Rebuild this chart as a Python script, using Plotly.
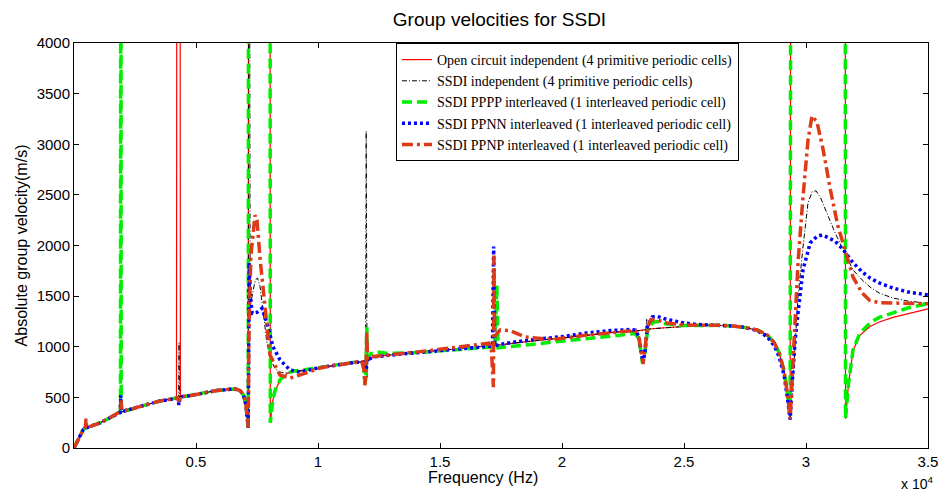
#-------------------------------------------------------------------------------
# Group velocities for SSDI - absolute group velocity vs frequency
#-------------------------------------------------------------------------------

import plotly.graph_objects as go

# --------------------------------------
# Data, frequency in Hz, velocity in m/s
# values above 4000 run off the top of the axes
# --------------------------------------

# Open circuit independent (4 primitive periodic cells)
f_open = [0, 100, 165, 250, 370, 450, 600, 800, 1066, 1400, 1885, 2200, 2580, 3000,
          3525, 4000, 4200, 4225, 4340, 4360, 4600, 4877, 5400, 5860, 6393, 6600,
          6800, 6950, 7050, 7110, 7140, 7160, 8030, 8045, 8150, 8250, 8450, 8750,
          9000, 9500, 10000, 10500, 11000, 11500, 11800, 12300, 12800, 13500, 14000,
          14500, 15000, 15500, 16000, 16500, 17000, 17500, 18000, 18500, 19000, 19500,
          20000, 20500, 21000, 21500, 22000, 22500, 23000, 23800, 24500, 25000, 25500,
          26000, 26500, 27000, 27500, 28000, 28400, 28700, 28900, 29100, 29250, 29350,
          29390, 31600, 31620, 31750, 31926, 32200, 32623, 33000, 33566, 34200, 35000]
v_open = [0, 50, 79, 120, 178, 195, 210, 225, 247, 290, 350, 375, 405, 430,
          464, 485, 493, 9000, 9000, 512, 510, 523, 548, 568, 580, 582,
          570, 520, 420, 300, 200, 9000, 9000, 250, 470, 570, 670, 740,
          760, 770, 790, 810, 830, 845, 850, 900, 915, 930, 940,
          950, 960, 975, 985, 995, 1005, 1020, 1035, 1050, 1060, 1075,
          1085, 1100, 1115, 1125, 1140, 1150, 1155, 1180, 1195, 1205, 1210,
          1215, 1212, 1205, 1190, 1165, 1120, 1040, 940, 760, 520, 290,
          9000, 9000, 290, 650, 960, 1110, 1200, 1245, 1290, 1330, 1375]

# SSDI independent (4 primitive periodic cells)
f_ssdi = [0, 100, 165, 250, 370, 450, 600, 800, 1066, 1400, 1885, 2200, 2580, 3000,
          3525, 4000, 4200, 4290, 4305, 4320, 4400, 4877, 5400, 5860, 6393, 6600,
          6800, 6950, 7050, 7110, 7140, 7170, 7220, 7300, 7420, 7520, 7620, 7750,
          7900, 8050, 8250, 8500, 8800, 9200, 9500, 10000, 10500, 11000, 11500, 11800,
          11950, 11975, 12010, 12060, 12300, 12800, 13500, 14000, 14500, 15000, 15500,
          16000, 16500, 17000, 17500, 18000, 18500, 19000, 19500, 20000, 20500, 21000,
          21500, 22000, 22500, 23000, 23200, 23440, 23470, 23500, 23800, 24500, 25000,
          25500, 26000, 26500, 27000, 27500, 28000, 28400, 28700, 28900, 29100, 29250,
          29350, 29450, 29550, 29672, 29877, 30082, 30250, 30410, 30600, 30900, 31200,
          31520, 31926, 32300, 32623, 33000, 33566, 34200, 35000]
v_ssdi = [0, 50, 79, 120, 178, 195, 210, 225, 247, 290, 350, 375, 405, 430,
          464, 485, 493, 496, 1040, 500, 512, 523, 548, 568, 580, 582,
          570, 520, 420, 300, 200, 9000, 1400, 1500, 1650, 1680, 1600, 1350,
          1050, 880, 780, 745, 740, 755, 770, 790, 810, 830, 845, 850,
          855, 3130, 700, 870, 900, 915, 930, 940, 950, 960, 975,
          985, 995, 1005, 1020, 1035, 1050, 1060, 1075, 1085, 1100, 1115,
          1125, 1140, 1150, 1155, 1160, 1170, 1270, 1175, 1180, 1195, 1205,
          1210, 1215, 1212, 1205, 1190, 1165, 1120, 1040, 940, 760, 520,
          300, 600, 1050, 1491, 1985, 2420, 2530, 2540, 2470, 2300, 2120,
          1960, 1758, 1660, 1590, 1530, 1481, 1450, 1430]

# SSDI PPPP interleaved (1 interleaved periodic cell)
f_pppp = [0, 100, 165, 250, 370, 450, 600, 800, 1066, 1400, 1885, 1905, 1920, 1935,
          2000, 2200, 2580, 3000, 3525, 4000, 4220, 4600, 4877, 5400, 5860, 6393,
          6600, 6800, 6950, 7050, 7110, 7140, 7160, 8030, 8045, 8150, 8250, 8450,
          8750, 9000, 9500, 10000, 10500, 11000, 11500, 11800, 11880, 11920, 11960,
          12000, 12030, 12150, 12400, 12800, 13500, 14000, 14500, 15000, 15500, 16000,
          16500, 17000, 17250, 17330, 17380, 18000, 19000, 20000, 21000, 22000, 22500,
          23000, 23150, 23250, 23300, 23380, 23500, 23700, 23900, 24300, 24800, 25500,
          26000, 26500, 27000, 27500, 28000, 28400, 28700, 28900, 29100, 29250, 29350,
          29390, 31600, 31620, 31750, 31926, 32200, 32623, 33000, 33566, 34200, 35000]
v_pppp = [0, 50, 79, 120, 178, 195, 210, 225, 247, 290, 350, 400, 9000, 400,
          360, 375, 405, 430, 464, 485, 494, 510, 523, 548, 568, 580,
          582, 570, 520, 420, 300, 200, 9000, 9000, 250, 480, 575, 675,
          740, 760, 775, 795, 815, 835, 848, 845, 790, 630, 700,
          1195, 900, 930, 950, 935, 935, 942, 950, 958, 970, 978,
          988, 998, 1000, 1610, 990, 1005, 1030, 1055, 1085, 1110, 1125,
          1130, 1080, 950, 840, 900, 1150, 1240, 1250, 1225, 1210, 1210,
          1215, 1212, 1205, 1190, 1165, 1120, 1040, 940, 760, 520, 300,
          9000, 9000, 290, 650, 968, 1130, 1235, 1290, 1333, 1385, 1425]

# SSDI PPNN interleaved (1 interleaved periodic cell)
f_ppnn = [0, 100, 165, 250, 370, 450, 600, 800, 1066, 1400, 1885, 1900, 1915, 1935,
          2000, 2200, 2580, 3000, 3525, 4000, 4250, 4300, 4350, 4600, 4877, 5400,
          5860, 6393, 6600, 6800, 6950, 7050, 7110, 7140, 7160, 7175, 7230, 7300,
          7500, 7705, 7910, 8156, 8443, 8852, 9262, 9700, 10000, 10500, 11000, 11500,
          11900, 11970, 12000, 12100, 12300, 12800, 13500, 14000, 14500, 15000, 15500,
          16000, 16500, 17000, 17150, 17200, 17240, 17500, 18000, 19000, 20000, 21000,
          22000, 22800, 23000, 23150, 23250, 23320, 23400, 23500, 23700, 23900, 24300,
          25000, 25500, 26000, 26500, 27000, 27500, 28000, 28400, 28700, 28900, 29100,
          29250, 29350, 29450, 29550, 29672, 29877, 30170, 30450, 30660, 30900, 31200,
          31520, 31926, 32300, 32623, 33000, 33566, 34200, 35000]
v_ppnn = [0, 50, 79, 120, 178, 195, 210, 225, 247, 290, 350, 380, 520, 370,
          360, 375, 405, 430, 464, 485, 490, 425, 505, 510, 523, 548,
          568, 580, 582, 570, 520, 420, 300, 200, 1000, 1830, 1500, 1330,
          1340, 1380, 1235, 1000, 870, 770, 750, 775, 790, 810, 830, 845,
          850, 770, 880, 880, 900, 915, 930, 940, 950, 960, 975,
          985, 995, 1005, 1008, 1990, 1010, 1025, 1045, 1075, 1100, 1135,
          1160, 1170, 1165, 1100, 950, 840, 950, 1200, 1295, 1300, 1270,
          1235, 1220, 1215, 1212, 1205, 1190, 1160, 1100, 1010, 900, 720,
          480, 280, 700, 1050, 1333, 1758, 2025, 2090, 2104, 2080, 2040,
          1960, 1830, 1740, 1679, 1630, 1580, 1540, 1511]

# SSDI PPNP interleaved (1 interleaved periodic cell)
f_ppnp = [0, 100, 165, 250, 370, 400, 470, 490, 520, 700, 1066, 1400, 1885, 1900,
          1930, 1960, 2200, 2580, 3000, 3525, 4000, 4250, 4300, 4340, 4600, 4877,
          5400, 5860, 6393, 6600, 6800, 6950, 7050, 7110, 7140, 7170, 7250, 7420,
          7500, 7630, 7830, 8030, 8440, 8850, 9500, 10000, 10500, 11000, 11500, 11800,
          11880, 11920, 11960, 12000, 12030, 12150, 12800, 13500, 14000, 14500, 15000,
          15500, 16000, 16500, 17000, 17100, 17150, 17190, 17210, 17240, 17300, 17459,
          17869, 18484, 19631, 20000, 20500, 21000, 21500, 22000, 22500, 23000, 23150,
          23250, 23320, 23400, 23500, 23650, 23900, 24300, 25000, 25500, 26000, 26500,
          27000, 27500, 28000, 28400, 28700, 28900, 29100, 29250, 29350, 29450, 29550,
          29672, 29877, 30082, 30246, 30450, 30700, 31000, 31300, 31520, 31926, 32300,
          32600, 33000, 33566, 34200, 35000]
v_ppnp = [0, 50, 79, 120, 178, 190, 210, 290, 200, 215, 247, 290, 350, 360,
          470, 375, 375, 405, 430, 464, 485, 495, 460, 510, 510, 523,
          548, 568, 580, 582, 570, 520, 420, 300, 200, 1200, 1900, 2300,
          2250, 1860, 1360, 920, 720, 690, 740, 785, 810, 830, 845, 850,
          780, 620, 700, 1150, 880, 900, 915, 930, 945, 960, 975,
          990, 1000, 1015, 1035, 1000, 800, 600, 1900, 1100, 1120, 1165,
          1160, 1096, 1072, 1085, 1100, 1115, 1125, 1140, 1150, 1160, 1090,
          950, 830, 980, 1190, 1270, 1265, 1235, 1215, 1212, 1215, 1212,
          1205, 1190, 1165, 1120, 1040, 940, 760, 520, 290, 800, 1350,
          1827, 2479, 3040, 3280, 3220, 2950, 2550, 2200, 2020, 1689, 1531,
          1460, 1435, 1430, 1428, 1425]

x_tick_vals = [5000, 10000, 15000, 20000, 25000, 30000, 35000]
x_tick_text = ['0.5', '1', '1.5', '2', '2.5', '3', '3.5']

# --------------------------------------
# Build the figure
# --------------------------------------

series = [
    ('Open circuit independent (4 primitive periodic cells)', f_open, v_open, '#FF0000', 1.2, 'solid'),
    ('SSDI independent (4 primitive periodic cells)', f_ssdi, v_ssdi, '#000000', 1, '5px,2px,1px,2px'),
    ('SSDI PPPP interleaved (1 interleaved periodic cell)', f_pppp, v_pppp, '#00EE00', 3.5, '10px,5px'),
    ('SSDI PPNN interleaved (1 interleaved periodic cell)', f_ppnn, v_ppnn, '#0000FF', 3.5, '3px,3px'),
    ('SSDI PPNP interleaved (1 interleaved periodic cell)', f_ppnp, v_ppnp, '#DD3A18', 3.5, '11px,4px,3px,4px'),
]

fig = go.Figure()

for name, fx, vy, color, width, dash in series:
    fig.add_trace(go.Scatter(
        x=fx,
        y=vy,
        mode='lines',
        name=name,
        line=dict(color=color, width=width, dash=dash)
    ))

axis_style = dict(
    showline=True,
    linecolor='black',
    linewidth=1,
    mirror='ticks',
    ticks='inside',
    ticklen=5,
    tickcolor='black',
    showgrid=False,
    zeroline=False,
    automargin=False,
    tickfont=dict(family='Liberation Sans, Arial', size=15, color='black'),
)

label_font = dict(family='Liberation Sans, Arial', size=16, color='black')

fig.update_layout(
    width=946,
    height=494,
    margin=dict(l=74, r=18, t=43, b=46),
    paper_bgcolor='white',
    plot_bgcolor='white',
    title=dict(
        text='Group velocities for SSDI',
        x=0.528,
        xanchor='center',
        y=0.96,
        yanchor='middle',
        font=dict(family='Liberation Sans, Arial', size=19, color='black')
    ),
    xaxis=dict(
        range=[0, 35000],
        tickmode='array',
        tickvals=x_tick_vals,
        ticktext=x_tick_text,
        **axis_style
    ),
    yaxis=dict(
        range=[0, 4000],
        tickmode='linear',
        tick0=0,
        dtick=500,
        **axis_style
    ),
    legend=dict(
        x=0.377,
        y=1.0,
        xanchor='left',
        yanchor='top',
        bgcolor='white',
        bordercolor='black',
        borderwidth=1,
        font=dict(family='Liberation Serif, Times New Roman', size=14, color='black'),
        itemwidth=30,
    ),
    showlegend=True,
    annotations=[
        # axis titles placed like the MATLAB original
        dict(
            text='Frequency (Hz)',
            xref='paper', yref='paper',
            x=0.479, y=-0.073,
            xanchor='center', yanchor='middle',
            showarrow=False,
            font=label_font
        ),
        dict(
            text='Absolute group velocity(m/s)',
            xref='paper', yref='paper',
            x=-0.061, y=0.5,
            xanchor='center', yanchor='middle',
            textangle=-90,
            showarrow=False,
            font=label_font
        ),
        dict(
            text='x 10<sup>4</sup>',
            xref='paper', yref='paper',
            x=1.008, y=-0.086,
            xanchor='right', yanchor='middle',
            showarrow=False,
            font=dict(family='Liberation Sans, Arial', size=14, color='black')
        )
    ]
)

# drop the page's default body margin so the figure sits at the window corner
fig.write_html("out.html",
               config={'displayModeBar': False},
               post_script="document.body.style.margin = '0';")
